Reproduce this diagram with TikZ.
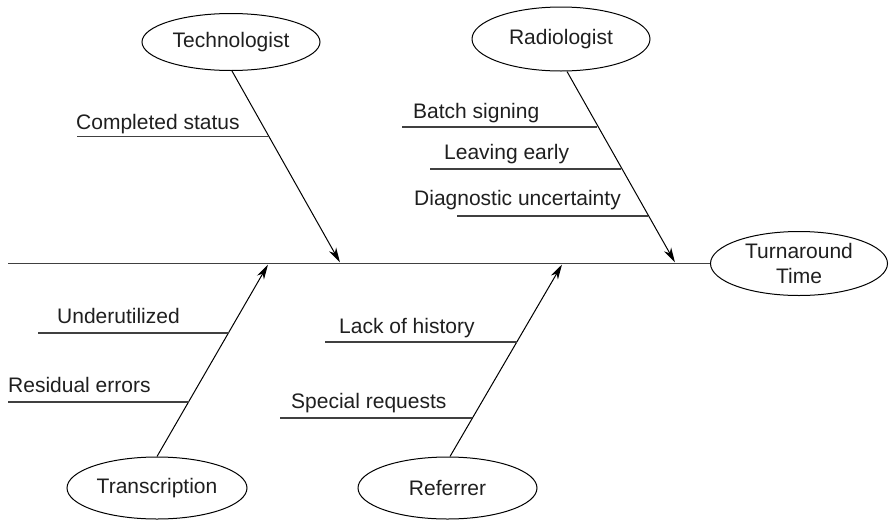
\documentclass[tikz,border=0pt]{standalone}
\usepackage{fontspec}
\setmainfont{Liberation Sans}
\usetikzlibrary{shapes.geometric,arrows.meta}
\begin{document}
\begin{tikzpicture}[x=1pt,y=-1pt,
  every node/.style={font=\fontsize{21}{25}\selectfont, text=black!88},
  cause/.style={draw, ellipse, inner sep=0pt, line width=1pt},
  lbl/.style={anchor=base west, inner sep=0pt},
  bone/.style={line width=1pt, -{Stealth[length=15pt,width=8pt,inset=4.5pt]}},
  rib/.style={line width=1.2pt, black!75},
  spine/.style={line width=1.3pt, black!75}]
\useasboundingbox (0,0) rectangle (889,520);

% effect and main causes
\node[cause, minimum width=177pt, minimum height=64pt, align=center] (turn) at (799,263.5) {Turnaround\\Time};
\node[cause, minimum width=178pt, minimum height=57pt] (tech) at (231,42) {Technologist};
\node[cause, minimum width=178pt, minimum height=64pt] (rad) at (561,39) {Radiologist};
\node[cause, minimum width=180pt, minimum height=62pt] (trans) at (157,488) {Transcription};
\node[cause, minimum width=179pt, minimum height=62pt] (ref) at (447.5,488) {Referrer};

% spine
\coordinate (tail) at (8,263.5);
\draw[spine] (tail) -- (turn.west);

% points where the bones meet the spine
\coordinate (techtip) at (340,262.5);
\coordinate (radtip) at (675,262.5);
\coordinate (transtip) at (268,264.5);
\coordinate (reftip) at (562,264.5);

\draw[bone] ([xshift=1pt]tech.south) -- (techtip);
\draw[bone] ([xshift=6pt]rad.south) -- (radtip);
\draw[bone] (trans.north) -- (transtip);
\draw[bone] ([xshift=2.5pt]ref.north) -- (reftip);

% sub-causes: Technologist
\node[lbl] (cs) at (76,129.5) {Completed status};
\coordinate (cs0) at (77,136.7); \coordinate (cs1) at (269,136.7);
\draw[rib] (cs0) -- (cs1);

% sub-causes: Radiologist
\node[lbl] (bs) at (413,118) {Batch signing};
\coordinate (bs0) at (402,127); \coordinate (bs1) at (597,127);
\draw[rib] (bs0) -- (bs1);
\node[lbl] (le) at (444,159.5) {Leaving early};
\coordinate (le0) at (430,169); \coordinate (le1) at (621,169);
\draw[rib] (le0) -- (le1);
\node[lbl] (du) at (414,205.7) {Diagnostic uncertainty};
\coordinate (du0) at (457,216); \coordinate (du1) at (648,216);
\draw[rib] (du0) -- (du1);

% sub-causes: Transcription
\node[lbl] (uu) at (57,323.3) {Underutilized};
\coordinate (uu0) at (38,333); \coordinate (uu1) at (229,333);
\draw[rib] (uu0) -- (uu1);
\node[lbl] (re) at (8,392.7) {Residual errors};
\coordinate (re0) at (8,402); \coordinate (re1) at (189,402);
\draw[rib] (re0) -- (re1);

% sub-causes: Referrer
\node[lbl] (lh) at (339,333.3) {Lack of history};
\coordinate (lh0) at (325,342); \coordinate (lh1) at (517,342);
\draw[rib] (lh0) -- (lh1);
\node[lbl] (sr) at (291,408.3) {Special requests};
\coordinate (sr0) at (280,418); \coordinate (sr1) at (472,418);
\draw[rib] (sr0) -- (sr1);
\end{tikzpicture}
\end{document}
